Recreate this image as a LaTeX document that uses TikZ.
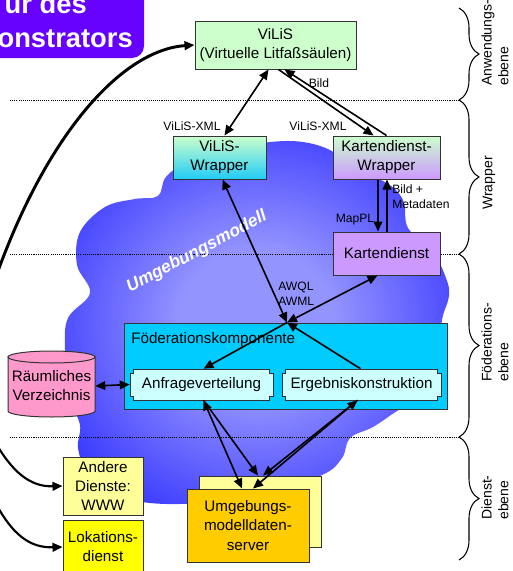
\documentclass[tikz,border=0pt]{standalone}
\usepackage{fontspec}
\setmainfont{Liberation Sans}
\usetikzlibrary{arrows.meta,calc,decorations.pathreplacing}
\definecolor{vilisgreen}{HTML}{CCFFCC}
\definecolor{wrapcyan}{HTML}{22CCF6}
\definecolor{lavender}{HTML}{CC99FF}
\definecolor{fedcyan}{HTML}{00CCFF}
\definecolor{palecyan}{HTML}{CCFFFF}
\definecolor{verzpink}{HTML}{FF99CC}
\definecolor{paleyellow}{HTML}{FFFF99}
\definecolor{lokyellow}{HTML}{FFFF00}
\definecolor{srvorange}{HTML}{FFCC00}
\definecolor{titlepurple}{HTML}{6600FF}
\definecolor{cloudin}{HTML}{9494FF}
\definecolor{cloudout}{HTML}{0000FF}
\pgfdeclareradialshading{cloudshade}{\pgfpoint{0bp}{0bp}}{color(0bp)=(cloudin); color(10bp)=(cloudin); color(42bp)=(cloudout); color(75bp)=(cloudout)}
\begin{document}
\begin{tikzpicture}[x=0.75pt,y=-0.75pt,
	>={Triangle[length=7.5pt,width=6.5pt]},
	txt/.style={font=\fontsize{11.4}{14.3}\selectfont, align=center, inner sep=0pt},
	small/.style={font=\fontsize{9.1}{11.3}\selectfont, align=left, inner sep=0pt},
	box/.style={txt, draw=black!80, line width=0.75pt},
	link/.style={line width=1.2pt},
	level/.style={dash pattern=on 0.8pt off 0.8pt, line width=0.6pt},
	bracket/.style={decorate, decoration={brace, amplitude=15pt}, line width=0.8pt},
	side/.style={txt, font=\fontsize{10.5}{12.5}\selectfont, rotate=90, align=left, anchor=west},
	titletext/.style={font=\bfseries\fontsize{20.5}{24}\selectfont, text=white, inner sep=0pt, anchor=base east},
	notchline/.style={draw=black!80, fill=palecyan, line width=0.75pt}]
	\useasboundingbox (0,0) rectangle (512,571);
	\clip (0,0) rectangle (512,571);

	\fill[titlepurple, rounded corners=9pt] (-20,-20) rectangle (144,58);
	\node[titletext] (title1) at (87,13) {ur des};
	\node[titletext] (title2) at (133,47) {onstrators};

	\shade[shading=cloudshade] plot[smooth cycle, tension=0.6] coordinates {
		(90,293) (77,265) (80,232) (105,207) (135,199) (158,196) (166,177)
		(190,160) (230,148) (290,141) (330,150) (350,170) (385,182) (403,200)
		(408,228) (432,250) (446,278) (449,296) (442,320) (438,360) (420,398)
		(397,411) (373,427) (350,438) (342,458) (322,475) (260,495) (200,503)
		(150,503) (112,494) (88,474) (78,448) (80,425) (69,395) (65,350) (68,318)};

	\draw[level] (10,100) -- (459,100);
	\draw[level] (10,254) -- (459,254);
	\draw[level] (10,437) -- (459,437);

	\draw[bracket] (459,8) -- (459,100);
	\draw[bracket] (459,100) -- (459,254);
	\draw[bracket] (459,254) -- (459,437);
	\draw[bracket] (459,437) -- (459,560);
	\node[side] (anwlbl) at (495,86) {Anwendungs-\\ebene};
	\node[side] (wraplbl) at (489,210) {Wrapper};
	\node[side] (fodlbl) at (495,382) {Föderations-\\ebene};
	\node[side] (dienlbl) at (495,520) {Dienst-\\ebene};

	\node[font=\bfseries\itshape\fontsize{13}{15}\selectfont, text=white, rotate=28] (umod) at (197,252) {Umgebungsmodell};

	\node[box, fill=vilisgreen, minimum width=120.75pt, minimum height=36pt] (vilis) at (275.5,45) {ViLiS\\(Virtuelle Litfaßsäulen)};
	\node[box, top color=vilisgreen, bottom color=wrapcyan, minimum width=69.75pt, minimum height=32.25pt] (vw) at (219.5,157.5) {ViLiS-\\Wrapper};
	\node[box, top color=vilisgreen, bottom color=lavender, minimum width=80.25pt, minimum height=32.25pt] (kw) at (386.5,157.5) {Kartendienst-\\Wrapper};
	\node[box, fill=lavender, minimum width=80.25pt, minimum height=32.25pt] (kd) at (386.5,253.5) {Kartendienst};

	\node[box, fill=fedcyan, minimum width=242.25pt, minimum height=64.5pt] (fed) at (285.5,366) {};
	\node[txt, anchor=west] (fedlbl) at (131,340) {Föderationskomponente};
	\foreach \a/\b in {130/273, 282/441}
		\draw[notchline] (\a+3.5,369) -- (\b-3.5,369) -- (\b-3.5,373) -- (\b,373) -- (\b,396) -- (\b-3.5,396)
			-- (\b-3.5,400) -- (\a+3.5,400) -- (\a+3.5,396) -- (\a,396) -- (\a,373) -- (\a+3.5,373) -- cycle;
	\node[txt, minimum width=107.25pt, minimum height=23.25pt] (anf) at (201.5,384.5) {Anfrageverteilung};
	\node[txt, minimum width=119.25pt, minimum height=23.25pt] (erg) at (361.5,384.5) {Ergebniskonstruktion};

	\filldraw[draw=black!80, fill=verzpink, line width=0.75pt] (8,357) -- (8,411) arc[start angle=180, end angle=0, x radius=43.5, y radius=6] -- (95,357) -- cycle;
	\filldraw[draw=black!80, fill=verzpink, line width=0.75pt] (51.5,357) ellipse[x radius=43.5, y radius=6];
	\node[txt, minimum width=65.25pt, minimum height=49.5pt] (verz) at (51.5,386) {Räumliches\\Verzeichnis};

	\node[box, fill=paleyellow, minimum width=60pt, minimum height=43.5pt] (andere) at (103,486) {Andere\\Dienste:\\WWW};
	\node[box, fill=lokyellow, minimum width=60pt, minimum height=40.5pt] (lok) at (103,547) {Lokations-\\dienst};
	\node[box, fill=paleyellow, minimum width=91.5pt, minimum height=53.25pt] (srvb) at (260,511.5) {};
	\node[box, fill=srvorange, minimum width=91.5pt, minimum height=54.75pt] (srv) at (248,525.5) {Umgebungs-\\modelldaten-\\server};

	\node[small] (xmla) at (192,126) {ViLiS-XML};
	\node[small] (xmlb) at (318,126) {ViLiS-XML};
	\node[small] (bild) at (319,83) {Bild};
	\node[small] (mappl) at (355,220) {MapPL};
	\node[small, anchor=west] (meta) at (392,197) {Bild +\\Metadaten};
	\node[small, anchor=west] (awql) at (278,294) {AWQL\\AWML};

	\coordinate (j) at ($(fed.north)+(1.5,0)$);
	\coordinate (offa) at (-12,300);
	\coordinate (offb) at (-6,440);
	\coordinate (offc) at (-6,500);

	\draw[link,<->] ($(vw.north)+(5,0)$) -- ($(vilis.south)+(-7,0)$);
	\draw[link,->] ($(vilis.south)+(3,0)$) -- ($(kw.north)+(-13,0)$);
	\draw[link,->] (kw.north) -- ($(vilis.south)+(9,0)$);
	\draw[link,->] ($(kw.south)+(-8.5,0)$) -- ($(kd.north)+(-8.5,0)$);
	\draw[link,->] ($(kd.north)+(0.5,0)$) -- ($(kw.south)+(0.5,0)$);
	\draw[link,<->] ($(vw.south)+(3,0)$) -- (j);
	\draw[link,<->] (j) -- ($(kd.south)+(-9,0)$);
	\draw[link,->] (j) -- ($(anf.north)+(2,0)$);
	\draw[link,->] ($(erg.north)+(-1,0)$) -- (j);
	\draw[link,<->] (verz.east) -- (anf.west);
	\draw[link,<->] ($(anf.south)+(2,0)$) -- ($(srv.north)+(-6,0)$);
	\draw[link,->] ($(anf.south)+(2,0)$) -- ($(srvb.north)+(-2,0)$);
	\draw[link,<->] ($(erg.south)+(-4,0)$) -- ($(srv.north)+(5,0)$);
	\draw[link,->] ($(erg.south)+(-4,0)$) -- ($(srvb.north)+(3,0)$);

	\draw[link, line width=2.2pt, ->] (offa) .. controls (40,140) and (120,50) .. (vilis.west);
	\draw[link, line width=1.6pt, ->] (offb) .. controls (12,472) and (30,487) .. (andere.west);
	\draw[link, line width=1.6pt, ->] (offc) .. controls (12,535) and (30,548) .. (lok.west);
\end{tikzpicture}
\end{document}
